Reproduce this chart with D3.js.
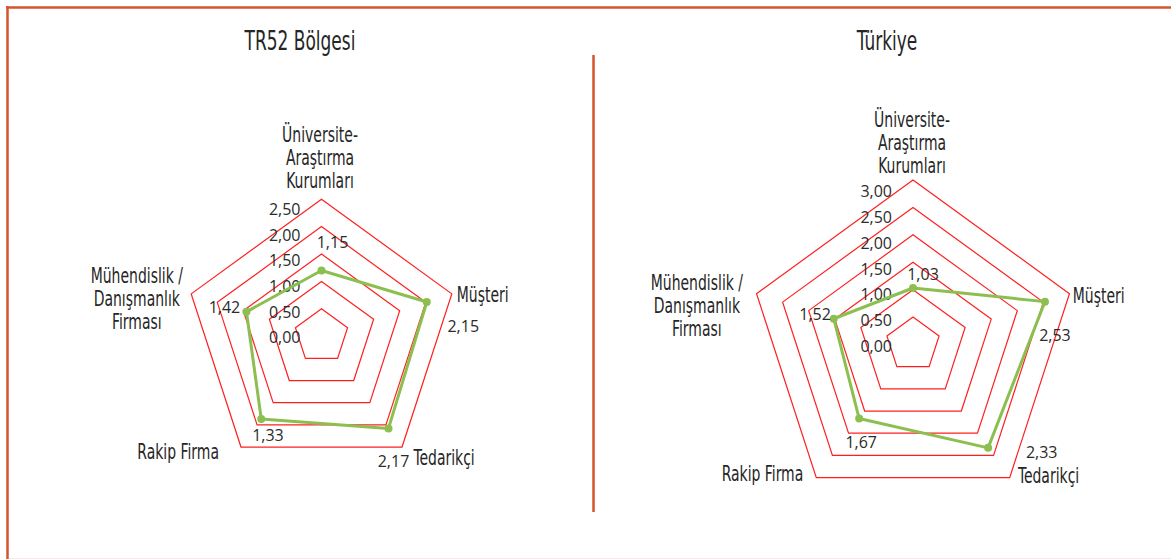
<!DOCTYPE html>
<html>
<head>
<meta charset="utf-8">
<script src="https://cdn.jsdelivr.net/npm/d3@7"></script>
<style>
  body { margin: 0; background: #fff; }
  .cat { font-family: "DejaVu Sans Condensed", "DejaVu Sans", sans-serif; font-stretch: condensed; fill: #262626; }
  .num { font-family: "Open Sans", "Noto Sans", sans-serif; fill: #2b2b2b; }
</style>
</head>
<body>
<div id="chart"></div>
<script>
// categories (clockwise from top)
var categories = [
  ["Üniversite-", "Araştırma", "Kurumları"],
  ["Müşteri"],
  ["Tedarikçi"],
  ["Rakip Firma"],
  ["Mühendislik /", "Danışmanlık", "Firması"]
];
var titles = ["TR52 Bölgesi", "Türkiye"];

// TR52: plotted positions, label texts as printed
var tr52Values = [1.20, 2.02, 2.08, 1.87, 1.44];
var tr52Labels = ["1,15", "2,15", "2,17", "1,33", "1,42"];
var tr52Ticks = [0, 0.5, 1, 1.5, 2, 2.5];

var turkiyeValues = [1.03, 2.53, 2.33, 1.67, 1.52];
var turkiyeLabels = ["1,03", "2,53", "2,33", "1,67", "1,52"];
var turkiyeTicks = [0, 0.5, 1, 1.5, 2, 2.5, 3];

var W = 1171, H = 559;
var tr = d3.formatLocale({decimal: ",", thousands: ".", grouping: [3], currency: ["", ""]});
var tickFormat = tr.format(".2f");

var charts = [
  {
    title: titles[0], titleX: 300, cx: 321.5, cy: 336.2, R: 137,
    ticks: tr52Ticks, values: tr52Values, labels: tr52Labels,
    labelOff: [[11, -28], [36.5, 24], [5, 32.5], [6.7, 16], [-22, -5]],
    catOff: [[-1.5, -18.4], [5, 0.6], [11.5, 10], [-22, 4.7], [-8, 4.4]]
  },
  {
    title: titles[1], titleX: 887, cx: 913, cy: 344.5, R: 164.5,
    ticks: turkiyeTicks, values: turkiyeValues, labels: turkiyeLabels,
    labelOff: [[10, -13.5], [10, 33.5], [53.6, 4], [2, 24], [-18.7, -4]],
    catOff: [[-1, -14.2], [3.3, 1.3], [8.3, -2.6], [-13, -4.6], [-13.3, 11.3]]
  }
];
var catAnchor = ["middle", "start", "start", "end", "block"];

var svg = d3.select("#chart").append("svg")
    .attr("width", W)
    .attr("height", H);

// frame
var frame = "#d4552c";
svg.append("line").attr("x1", 6).attr("x2", W).attr("y1", 7.5).attr("y2", 7.5)
    .style("stroke", frame).style("stroke-width", 2.5);
svg.append("line").attr("x1", 7.5).attr("x2", 7.5).attr("y1", 6).attr("y2", H)
    .style("stroke", frame).style("stroke-width", 2.5);
svg.append("line").attr("x1", 9).attr("x2", W).attr("y1", 558.5).attr("y2", 558.5)
    .style("stroke", "#fbe6e6").style("stroke-width", 1);
svg.append("line").attr("x1", 593.5).attr("x2", 593.5).attr("y1", 55).attr("y2", 512)
    .style("stroke", frame).style("stroke-width", 2.5);

var catSize = 21, catScale = 0.74, lineH = 23;

charts.forEach(function (c) {
    var max = d3.max(c.ticks);
    var r = d3.scaleLinear().domain([0, max]).range([0, c.R]);
    var n = categories.length;
    var angle = function (i) { return i * 2 * Math.PI / n; };
    var pt = function (i, v) {
        return [c.cx + r(v) * Math.sin(angle(i)), c.cy - r(v) * Math.cos(angle(i))];
    };
    var g = svg.append("g");

    // title
    g.append("text")
        .attr("class", "cat")
        .attr("transform", "translate(" + c.titleX + ",50) scale(0.7,1)")
        .attr("text-anchor", "middle")
        .style("font-size", "27px")
        .text(c.title);

    // grid
    var ring = d3.line().curve(d3.curveLinearClosed);
    g.selectAll(".ring")
        .data(c.ticks.filter(function (t) { return t > 0; }))
        .enter().append("path")
        .attr("class", "ring")
        .attr("d", function (t) { return ring(d3.range(n).map(function (i) { return pt(i, t); })); })
        .style("fill", "none")
        .style("stroke", "#ff1f1f")
        .style("stroke-width", 1.2);

    // tick labels
    g.selectAll(".tick")
        .data(c.ticks)
        .enter().append("text")
        .attr("class", "num")
        .attr("x", c.cx - 21)
        .attr("y", function (t) { return c.cy + 1.5 - 0.938 * r(t) + 5.7; })
        .attr("text-anchor", "end")
        .style("font-size", "16px")
        .text(tickFormat);

    // series
    g.append("path")
        .attr("d", ring(c.values.map(function (v, i) { return pt(i, v); })))
        .style("fill", "none")
        .style("stroke", "#8cbf4f")
        .style("stroke-width", 3)
        .style("stroke-linejoin", "round");

    g.selectAll(".dot")
        .data(c.values)
        .enter().append("circle")
        .attr("cx", function (v, i) { return pt(i, v)[0]; })
        .attr("cy", function (v, i) { return pt(i, v)[1]; })
        .attr("r", 4)
        .style("fill", "#8cbf4f");

    // value labels
    g.selectAll(".val")
        .data(c.labels)
        .enter().append("text")
        .attr("class", "num")
        .attr("x", function (d, i) { return pt(i, c.values[i])[0] + c.labelOff[i][0]; })
        .attr("y", function (d, i) { return pt(i, c.values[i])[1] + c.labelOff[i][1] + 5.7; })
        .attr("text-anchor", "middle")
        .style("font-size", "16px")
        .text(function (d) { return d; });

    // category labels
    categories.forEach(function (lines, i) {
        var v = pt(i, max);
        var x = v[0] + c.catOff[i][0];
        var yc = v[1] + c.catOff[i][1];
        var a = catAnchor[i];
        var first;
        if (i === 0) first = yc - (lines.length - 1) * lineH;
        else first = yc - (lines.length - 1) / 2 * lineH;
        var t = g.append("text")
            .attr("class", "cat")
            .attr("text-anchor", a === "block" ? "middle" : a)
            .style("font-size", catSize + "px");
        lines.forEach(function (s, k) {
            t.append("tspan").attr("x", 0).attr("y", k * lineH).text(s);
        });
        if (a === "block") {
            var w = t.node().getBBox().width * catScale;
            x = x - w / 2;
        }
        t.attr("transform", "translate(" + x + "," + (first + catSize * 0.36) + ") scale(" + catScale + ",1)");
    });
});
</script>
</body>
</html>
